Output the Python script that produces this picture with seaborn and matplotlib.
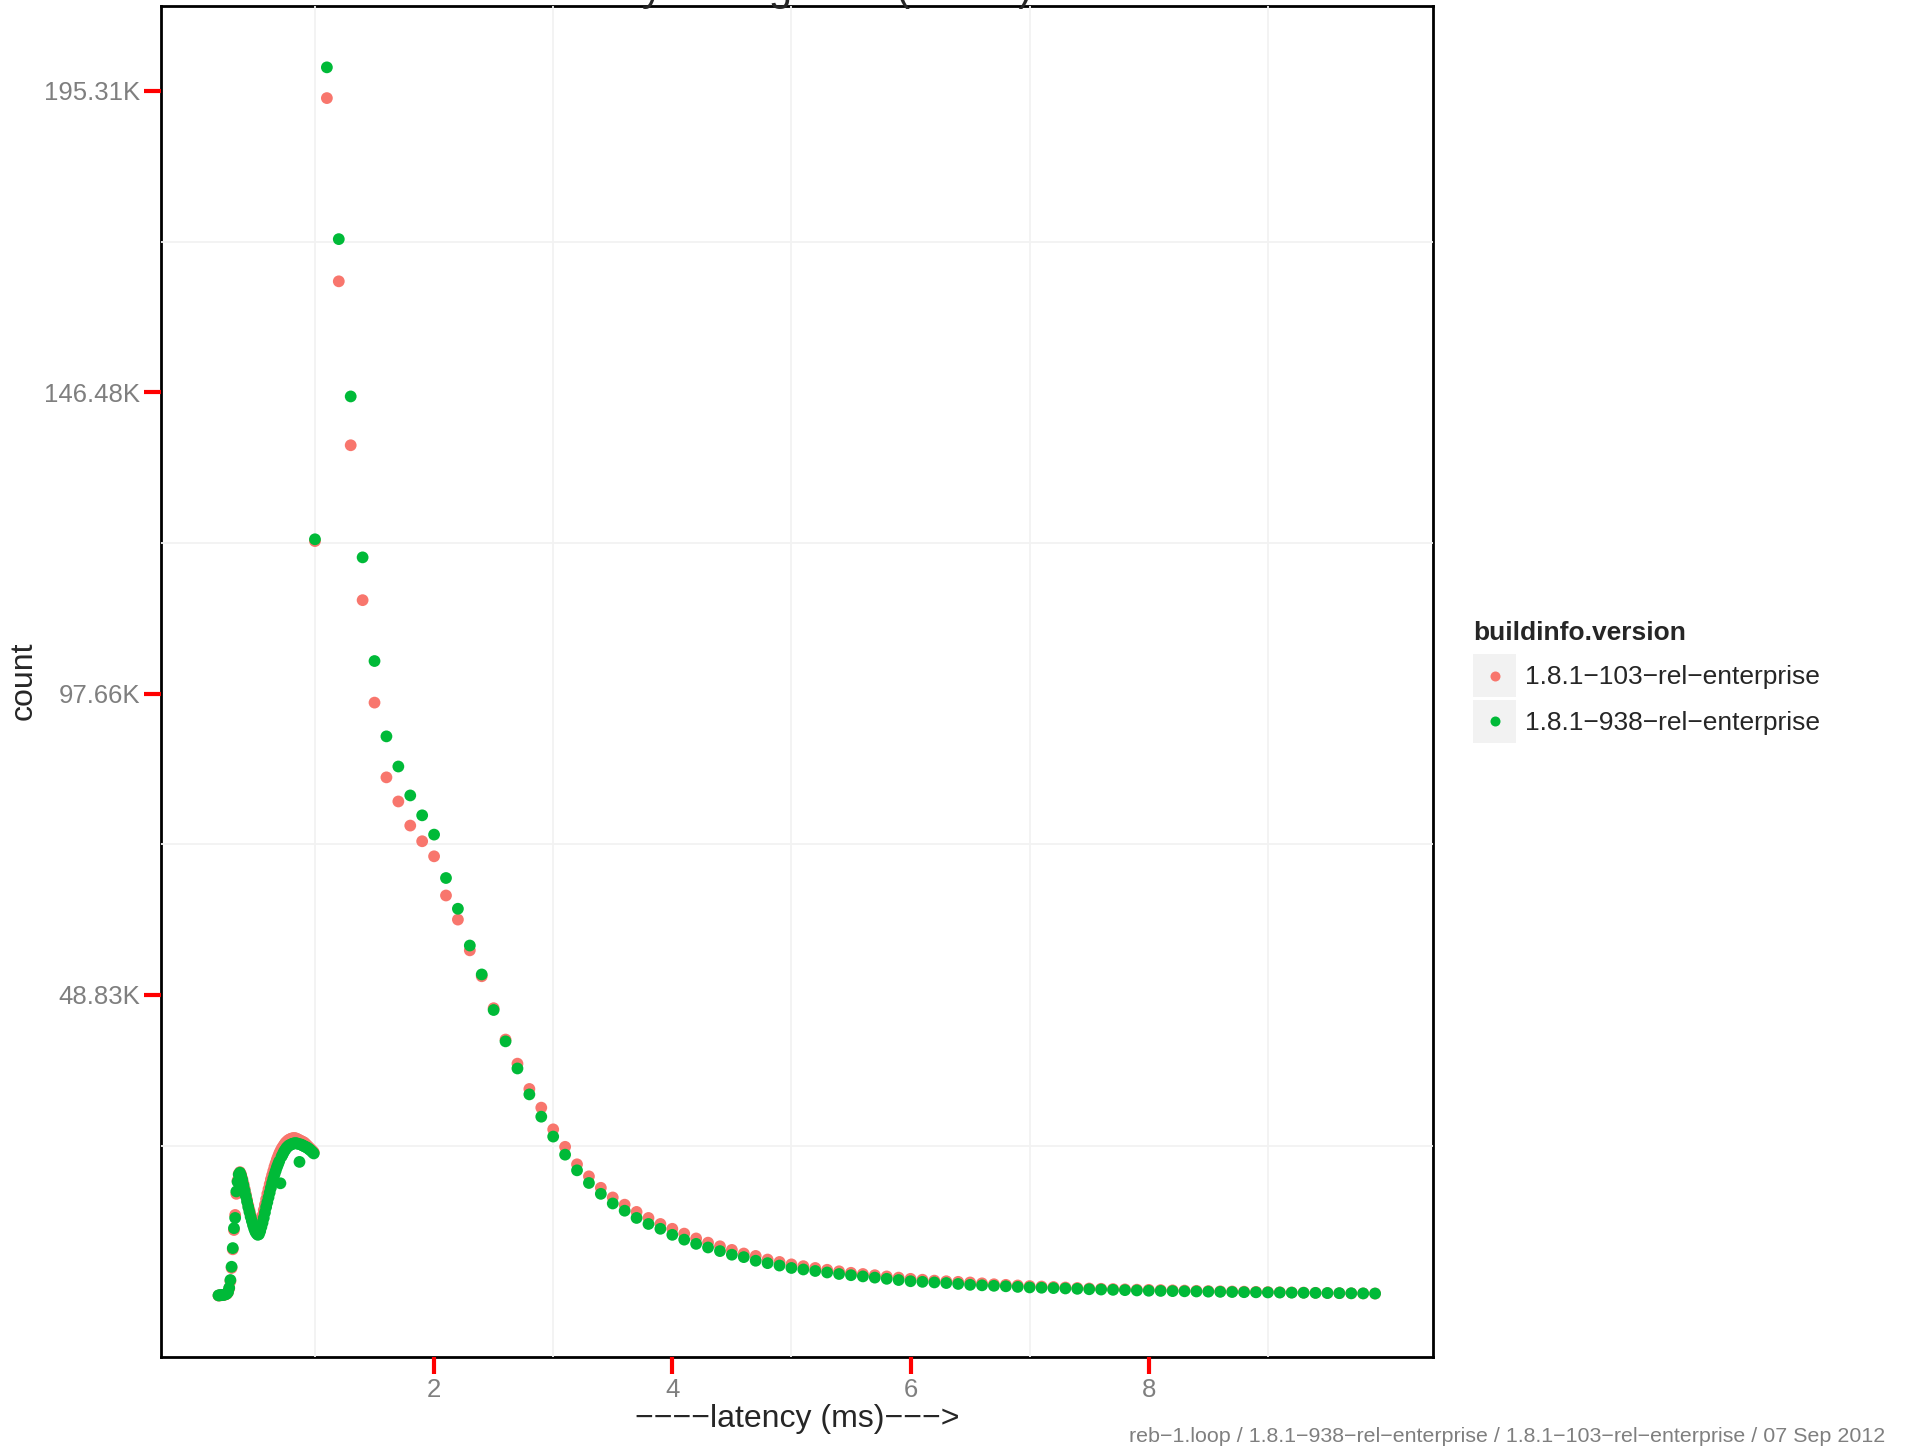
import pandas as pd
import matplotlib
matplotlib.use("Agg")
import matplotlib.pyplot as plt
import seaborn as sns
from matplotlib.lines import Line2D
from matplotlib.patches import Rectangle
from matplotlib.ticker import FixedLocator, FuncFormatter

versions = ["1.8.1\u2212103\u2212rel\u2212enterprise", "1.8.1\u2212938\u2212rel\u2212enterprise"]
colors = ["#F8766D", "#00BA38"]

# sub-millisecond bins (0.01 ms)
latency_fine = [0.19, 0.20, 0.21, 0.22, 0.23, 0.24, 0.25, 0.26, 0.27, 0.28,
                0.29, 0.30, 0.31, 0.32, 0.33, 0.34, 0.35, 0.36, 0.37, 0.38,
                0.39, 0.40, 0.41, 0.42, 0.43, 0.44, 0.45, 0.46, 0.47, 0.48,
                0.49, 0.50, 0.51, 0.52, 0.53, 0.54, 0.55, 0.56, 0.57, 0.58,
                0.59, 0.60, 0.61, 0.62, 0.63, 0.64, 0.65, 0.66, 0.67, 0.68,
                0.69, 0.70, 0.71, 0.72, 0.73, 0.74, 0.75, 0.76, 0.77, 0.78,
                0.79, 0.80, 0.81, 0.82, 0.83, 0.84, 0.85, 0.86, 0.87, 0.88,
                0.89, 0.90, 0.91, 0.92, 0.93, 0.94, 0.95, 0.96, 0.97, 0.98,
                0.99]

# millisecond-and-up bins (0.1 ms)
latency_coarse = [1.0, 1.1, 1.2, 1.3, 1.4, 1.5, 1.6, 1.7, 1.8, 1.9,
                  2.0, 2.1, 2.2, 2.3, 2.4, 2.5, 2.6, 2.7, 2.8, 2.9,
                  3.0, 3.1, 3.2, 3.3, 3.4, 3.5, 3.6, 3.7, 3.8, 3.9,
                  4.0, 4.1, 4.2, 4.3, 4.4, 4.5, 4.6, 4.7, 4.8, 4.9,
                  5.0, 5.1, 5.2, 5.3, 5.4, 5.5, 5.6, 5.7, 5.8, 5.9,
                  6.0, 6.1, 6.2, 6.3, 6.4, 6.5, 6.6, 6.7, 6.8, 6.9,
                  7.0, 7.1, 7.2, 7.3, 7.4, 7.5, 7.6, 7.7, 7.8, 7.9,
                  8.0, 8.1, 8.2, 8.3, 8.4, 8.5, 8.6, 8.7, 8.8, 8.9,
                  9.0, 9.1, 9.2, 9.3, 9.4, 9.5, 9.6, 9.7, 9.8, 9.9]

count_103_fine = [120, 150, 170, 190, 220, 260, 320, 420, 650, 1300,
                  2500, 4700, 7800, 11000, 13500, 17000, 19200, 20300, 20600, 20200,
                  19500, 18700, 17800, 16900, 16000, 15100, 14300, 13500, 12800, 12100,
                  11500, 11000, 10700, 10600, 10900, 11600, 12500, 13400, 14300, 15200,
                  16100, 17000, 17800, 18600, 19400, 20100, 20800, 21500, 22100, 22700,
                  23200, 23700, 24100, 24500, 24800, 25100, 25400, 25600, 25800, 25950,
                  26050, 26150, 26200, 26250, 26250, 26200, 26100, 26000, 25900, 25800,
                  25700, 25600, 25500, 25300, 25100, 24900, 24700, 24500, 24300, 24100,
                  23900]

count_938_fine = [150, 170, 190, 210, 240, 280, 340, 450, 700, 1400,
                  2700, 4900, 8000, 11300, 13000, 17400, 19000, 20200, 20500, 20000,
                  19300, 18400, 17500, 16600, 15700, 14800, 14000, 13200, 12500, 11800,
                  11200, 10700, 10400, 10200, 10300, 10800, 11500, 12200, 13000, 13900,
                  14800, 15600, 16400, 17200, 18000, 18800, 19500, 20200, 20800, 21400,
                  21900, 22400, 18750, 23200, 23600, 24000, 24300, 24600, 24800, 25000,
                  25100, 25200, 25300, 25350, 25400, 25400, 25350, 25300, 22300, 25200,
                  25100, 25000, 24900, 24800, 24700, 24600, 24400, 24300, 24100, 23900,
                  23700]

count_103_coarse = [125300, 198800, 168400, 141200, 115500, 98500, 86100, 82100, 78100, 75500,
                    73000, 66500, 62500, 57400, 53100, 47800, 42600, 38600, 34400, 31300,
                    27700, 24800, 21900, 19900, 18000, 16400, 15200, 14000, 13000, 12000,
                    11200, 10400, 9600, 8900, 8300, 7700, 7100, 6700, 6100, 5700,
                    5300, 5000, 4700, 4400, 4150, 3900, 3700, 3500, 3300, 3100,
                    2900, 2750, 2600, 2500, 2400, 2300, 2150, 2000, 1900, 1800,
                    1700, 1620, 1540, 1460, 1380, 1300, 1250, 1200, 1150, 1100,
                    1070, 1030, 990, 950, 910, 870, 830, 800, 770, 740,
                    700, 670, 640, 610, 580, 550, 520, 500, 480, 460]

count_938_coarse = [125600, 203900, 175400, 149300, 122600, 105400, 92900, 87900, 83100, 79800,
                    76600, 69400, 64300, 58200, 53400, 47500, 42300, 37800, 33500, 29800,
                    26500, 23500, 20900, 18800, 17000, 15400, 14200, 13000, 12000, 11200,
                    10200, 9400, 8700, 8100, 7500, 6900, 6500, 5900, 5500, 5100,
                    4700, 4450, 4200, 3950, 3700, 3500, 3300, 3100, 2900, 2700,
                    2500, 2400, 2300, 2200, 2050, 1900, 1820, 1740, 1660, 1560,
                    1470, 1420, 1360, 1300, 1240, 1170, 1120, 1070, 1020, 970,
                    920, 890, 860, 830, 800, 770, 740, 710, 680, 660,
                    640, 620, 600, 580, 560, 540, 520, 500, 480, 460]

y_breaks = [50000, 100000, 150000, 200000]
y_minor = [25000, 75000, 125000, 175000]
x_breaks = [2, 4, 6, 8]
x_minor = [1, 3, 5, 7, 9]

df = pd.concat([
    pd.DataFrame({"latency": latency_fine + latency_coarse,
                  "count": count_103_fine + count_103_coarse,
                  "version": versions[0]}),
    pd.DataFrame({"latency": latency_fine + latency_coarse,
                  "count": count_938_fine + count_938_coarse,
                  "version": versions[1]}),
], ignore_index=True)


class KeyHandler:
    # grey square key with the dot in its middle, like ggplot
    def legend_artist(self, legend, orig_handle, fontsize, handlebox):
        x0, y0 = handlebox.xdescent, handlebox.ydescent
        w, h = handlebox.width, handlebox.height
        bg = Rectangle((-x0, -y0), w, h, facecolor="#F2F2F2", edgecolor="none",
                       transform=handlebox.get_transform())
        dot = Line2D([-x0 + w / 2], [-y0 + h / 2], marker="o", ls="",
                     color=orig_handle.get_color(), markersize=7.2, markeredgewidth=0,
                     transform=handlebox.get_transform())
        handlebox.add_artist(bg)
        handlebox.add_artist(dot)
        return bg


sns.set_style("white")
plt.rcParams["font.family"] = ["Liberation Sans", "DejaVu Sans"]

fig = plt.figure(figsize=(19.08, 14.49), dpi=100)
ax = fig.add_axes([0.0842, 0.0635, 0.6668, 0.9324])

sns.scatterplot(data=df, x="latency", y="count", hue="version", hue_order=versions,
                palette=colors, s=72, linewidth=0, legend=False, ax=ax)

ax.margins(x=0.05, y=0.05)
ax.xaxis.set_major_locator(FixedLocator(x_breaks))
ax.xaxis.set_minor_locator(FixedLocator(x_minor))
ax.yaxis.set_major_locator(FixedLocator(y_breaks))
ax.yaxis.set_minor_locator(FixedLocator(y_minor))
ax.yaxis.set_major_formatter(FuncFormatter(lambda v, p: f"{v / 1024:.2f}K"))
ax.xaxis.set_major_formatter(FuncFormatter(lambda v, p: f"{v:g}"))

ax.set_axisbelow(True)
ax.grid(False, which="major")
ax.grid(True, which="minor", color="#F2F2F2", linewidth=1.3)
ax.tick_params(which="major", bottom=True, left=True, direction="out", length=12, width=3,
               color="red", labelcolor="#7F7F7F", labelsize=18.5, pad=3)
ax.tick_params(which="minor", length=0)
for sp in ax.spines.values():
    sp.set_color("black")
    sp.set_linewidth(2)
    sp.set_zorder(0.4)

ax.set_xlabel("")
ax.set_ylabel("")
fig.text(797 / 1908, 1 - 1419 / 1449, "\u2212\u2212\u2212\u2212latency (ms)\u2212\u2212\u2212>",
         ha="center", va="center", fontsize=23)
fig.text(24 / 1908, 1 - 681 / 1449, "count", rotation=90, ha="center", va="center", fontsize=23)

# title sits mostly above the canvas, only the descenders show
fig.text(775 / 1908, 1.0, "Latency Histograms (writes)", ha="center", va="baseline",
         fontsize=30)

fig.text(1885 / 1908, 1 - 1436 / 1449,
         "reb\u22121.loop / 1.8.1\u2212938\u2212rel\u2212enterprise / 1.8.1\u2212103\u2212rel\u2212enterprise / 07 Sep 2012",
         ha="right", va="center", color="#7F7F7F", fontsize=15.4)

handles = [Line2D([], [], marker="o", ls="", color=c) for c in colors]
leg = fig.legend(handles, versions, title="buildinfo.version", loc="upper left",
                 bbox_to_anchor=(1473 / 1908, 1 - 621 / 1449), frameon=False,
                 fontsize=19, title_fontproperties={"weight": "bold", "size": 19},
                 handler_map={Line2D: KeyHandler()},
                 handlelength=1.63, handleheight=2.13, handletextpad=0.34,
                 labelspacing=0.11, borderpad=0, borderaxespad=0, alignment="left")
# a bit more room between the legend title and the keys
leg._legend_box.sep = 6.5

fig.savefig("out.png", dpi=100)
